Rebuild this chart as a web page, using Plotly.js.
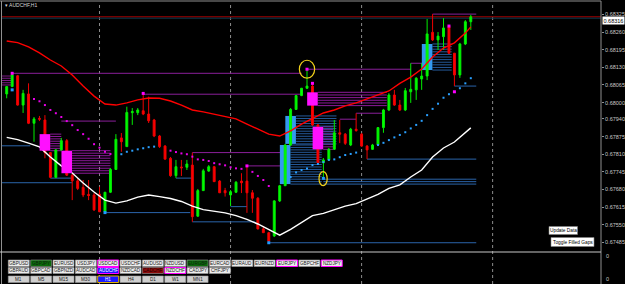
<!DOCTYPE html>
<html><head><meta charset="utf-8">
<script src="https://cdn.plot.ly/plotly-3.0.1.min.js"></script>
<style>html,body{margin:0;padding:0;background:#000;overflow:hidden}#chart{width:625px;height:284px}</style>
</head><body><div id="chart"></div>
<script>
// ---- DATA (AUDCHF, H1) ----
const barIndex = [...Array(86).keys()];
const open = [
0.68032,0.68059,0.68099,0.67991,0.68032,0.67924,0.67942,0.67936,0.67816,0.67725,
0.67826,0.67860,0.67733,0.67712,0.67688,0.67662,0.67660,0.67663,0.67598,0.67670,
0.67754,0.67870,0.67838,0.67963,0.67963,0.67970,0.67958,0.67936,0.67877,0.67840,
0.67795,0.67731,0.67763,0.67762,0.67770,0.67582,0.67676,0.67748,0.67764,0.67711,
0.67676,0.67660,0.67670,0.67711,0.67711,0.67668,0.67648,0.67535,0.67521,0.67509,
0.67638,0.67694,0.67844,0.67975,0.68026,0.68053,0.68061,0.67918,0.67779,0.67789,
0.67828,0.67889,0.67884,0.67844,0.67902,0.67884,0.67840,0.67828,0.67844,0.67908,
0.67973,0.68028,0.67991,0.67973,0.68040,0.68047,0.68087,0.68098,0.68259,0.68231,
0.68243,0.68280,0.68182,0.68102,0.68216,0.68298];
const high = [
0.68061,0.68108,0.68102,0.68047,0.68071,0.67947,0.67951,0.67954,0.67818,0.67829,
0.67870,0.67866,0.67737,0.67722,0.67715,0.67715,0.67667,0.67690,0.67671,0.67759,
0.67884,0.67888,0.67985,0.67980,0.67980,0.68034,0.68022,0.67940,0.67881,0.67844,
0.67800,0.67789,0.67789,0.67789,0.67816,0.67682,0.67756,0.67770,0.67767,0.67715,
0.67686,0.67678,0.67711,0.67740,0.67767,0.67678,0.67652,0.67546,0.67524,0.67641,
0.67697,0.67848,0.67980,0.68028,0.68054,0.68123,0.68071,0.67921,0.67796,0.67833,
0.67936,0.67936,0.67888,0.67907,0.67961,0.67888,0.67844,0.67848,0.67910,0.67977,
0.68035,0.68047,0.68010,0.68054,0.68145,0.68094,0.68145,0.68308,0.68326,0.68260,
0.68311,0.68282,0.68183,0.68220,0.68304,0.68323];
const low = [
0.68016,0.68058,0.67989,0.67962,0.67921,0.67856,0.67932,0.67795,0.67722,0.67722,
0.67822,0.67730,0.67641,0.67678,0.67652,0.67641,0.67601,0.67597,0.67595,0.67667,
0.67752,0.67819,0.67837,0.67918,0.67954,0.67954,0.67925,0.67873,0.67833,0.67789,
0.67727,0.67722,0.67730,0.67752,0.67561,0.67579,0.67675,0.67745,0.67708,0.67667,
0.67654,0.67619,0.67667,0.67667,0.67594,0.67594,0.67533,0.67520,0.67484,0.67505,
0.67634,0.67693,0.67840,0.67973,0.68024,0.68050,0.67914,0.67778,0.67721,0.67785,
0.67826,0.67851,0.67844,0.67840,0.67893,0.67837,0.67792,0.67826,0.67840,0.67889,
0.67969,0.67988,0.67969,0.67969,0.67999,0.68010,0.68047,0.68083,0.68227,0.68194,
0.68194,0.68179,0.68061,0.68091,0.68212,0.68268];
const close = [
0.68059,0.68102,0.67991,0.68034,0.67924,0.67940,0.67939,0.67816,0.67725,0.67826,
0.67860,0.67733,0.67712,0.67684,0.67660,0.67658,0.67605,0.67598,0.67670,0.67754,
0.67865,0.67856,0.67964,0.67967,0.67973,0.67958,0.67933,0.67877,0.67838,0.67792,
0.67731,0.67764,0.67760,0.67774,0.67580,0.67676,0.67749,0.67764,0.67709,0.67668,
0.67668,0.67672,0.67707,0.67705,0.67668,0.67648,0.67535,0.67521,0.67490,0.67638,
0.67694,0.67844,0.67975,0.68026,0.68053,0.68061,0.67918,0.67779,0.67789,0.67828,
0.67889,0.67884,0.67850,0.67902,0.67897,0.67840,0.67826,0.67844,0.67908,0.67973,
0.68028,0.67991,0.67973,0.68044,0.68049,0.68090,0.68098,0.68253,0.68231,0.68245,
0.68275,0.68182,0.68102,0.68216,0.68298,0.68316];

const maIdx = [0,2,4,6,8,10,12,14,16,18,20,22,24,26,28,30,32,34,36,38,40,42,44,46,48,50,52,54,56,58,60,62,64,66,68,70,72,74,76,78,80,82,84,85];
const maRed = [0.68227,0.68221,0.68205,0.68183,0.68157,0.68135,0.68102,0.68061,0.68024,0.67995,0.67991,0.67999,0.68010,0.68017,0.68016,0.68006,0.67991,0.67973,0.67966,0.67958,0.67949,0.67940,0.67921,0.67903,0.67884,0.67877,0.67896,0.67921,0.67943,0.67962,0.67973,0.67988,0.67999,0.68013,0.68028,0.68043,0.68071,0.68094,0.68124,0.68168,0.68201,0.68220,0.68256,0.68279];
const maWhite = [0.67872,0.67864,0.67851,0.67837,0.67800,0.67767,0.67741,0.67704,0.67671,0.67641,0.67630,0.67638,0.67652,0.67660,0.67654,0.67647,0.67636,0.67619,0.67606,0.67601,0.67594,0.67584,0.67570,0.67553,0.67533,0.67512,0.67533,0.67560,0.67584,0.67592,0.67605,0.67619,0.67628,0.67645,0.67662,0.67684,0.67697,0.67726,0.67752,0.67800,0.67833,0.67855,0.67888,0.67907];

const upDotIdx = [5,6,7,8,9,10,11,12,13,14,15,16,17,18,19,30,31,32,33,34,35,36,37,38,39,40,41,42,43,45,46,47,48];
const upDotVal = [0.68013,0.68005,0.67991,0.67973,0.67961,0.67947,0.67932,0.67917,0.67899,0.67884,0.67867,0.67847,0.67834,0.67819,0.67811,
0.67823,0.67818,0.67813,0.67810,0.67801,0.67791,0.67789,0.67785,0.67777,0.67773,0.67769,0.67762,0.67758,0.67756,
0.67745,0.67730,0.67715,0.67693];
const dnDotIdx = [21,22,23,24,25,26,27,52,53,54,55,56,57,58,59,60,61,62,63,64,68,69,70,71,72,73,74,75,76,77,78,79,80,81,83,84,85];
const dnDotVal = [0.67810,0.67819,0.67823,0.67828,0.67832,0.67836,0.67838,
0.67726,0.67743,0.67752,0.67757,0.67770,0.67774,0.67781,0.67789,0.67791,0.67799,0.67807,0.67811,0.67816,
0.67844,0.67852,0.67862,0.67872,0.67881,0.67891,0.67905,0.67918,0.67933,0.67954,0.67977,0.67996,0.68018,0.68031,
0.68053,0.68071,0.68090];

const fracHighIdx = [1,25,44,55,56,81,82];
const fracHighVal = [0.68108,0.68034,0.67767,0.68123,0.68071,0.68282,0.68040];
const fracLowIdx = [1,18,48,58];
const fracLowVal = [0.68047,0.67595,0.67484,0.67721];

// level lines: price, from bar, to bar
const purpleLevel = [0.68108,0.68123,0.68145,0.68326,0.68031,0.67932,0.67816,0.67767,0.67939,0.67961];
const purpleFrom  = [1,55,74,78,25,10,34,44,61,64];
const purpleTo    = [54,74,77,86,54,20,51,51,64,69];
const blueLevel = [0.67841,0.67722,0.67705,0.67595,0.67722,0.67561,0.67617,0.67484,0.67792,0.67718,0.67709,0.67700,0.68061];
const blueFrom  = [-1,8,-1,18,31,34,41,48,66,58,58,58,82];
const blueTo    = [4.3,12,12,33.6,34,45.5,44,86,86,86,86,86,86];

// filled-gap zones
const magGapBar = [7,11,56,57];
const magGapTop = [0.67884,0.67823,0.68038,0.67911];
const magGapBot = [0.67823,0.67740,0.67989,0.67828];
const magGapEnd = [10,19,69.6,59.8];
const blueGapBar = [51,52,77];
const blueGapTop = [0.67844,0.67951,0.68216];
const blueGapBot = [0.67700,0.67848,0.68120];
const blueGapEnd = [57.7,60.4,81.5];

const daySep = [17,41,65,89];
const currentPrice = 0.68316;

const tickVals = [0.68325,0.68260,0.68195,0.68130,0.68065,0.68000,0.67940,0.67875,0.67810,0.67745,0.67680,0.67615,0.67550,0.67485];
const tickText = ["0.68325","0.68260","0.68195","0.68130","0.68065","0.68000","0.67940","0.67875","0.67810","0.67745","0.67680","0.67615","0.67550","0.67485"];

const row1 = ["GBPUSD","GBPJPY","EURUSD","USDJPY","USDCAD","USDCHF","AUDUSD","NZDUSD","EURGBP","EURCAD","EURAUD","EURNZD","EURJPY","GBPCHF","NZDJPY"];
const row2 = ["GBPAUD","GBPCAD","GBPNZD","AUDCAD","AUDCHF","NZDCAD","CADCHF","NZDCHF","CADJPY","CHFJPY"];
const row3 = ["M1","M5","M15","M30","H1","H4","D1","W1","MN1"];

// ---- DRAWING ----
const W=625,H=284;
const px=x=>x/W, py=y=>1-y/H;
const shapes=[], annotations=[];
function hline(p,x0,x1,color,w,layer){shapes.push({type:'line',xref:'x',yref:'y',x0:x0,x1:x1,y0:p,y1:p,line:{color:color,width:w||1},layer:layer||'below'});}
function stripes(x0,x1,top,bot,color){
  const n=Math.max(1,Math.round((top-bot)/0.000092));
  for(let k=0;k<=n;k++){hline(bot+(top-bot)*k/n,x0,x1,color,0.8,'below');}
}
daySep.forEach(b=>shapes.push({type:'line',xref:'x',yref:'paper',x0:b,x1:b,y0:0,y1:py(2),line:{color:'#8c8c8c',width:1,dash:'dot'},layer:'below'}));
purpleLevel.forEach((p,i)=>hline(p,purpleFrom[i],purpleTo[i],'#8a1f9a',1));
blueLevel.forEach((p,i)=>hline(p,blueFrom[i],blueTo[i],'#2a64aa',1));
stripes(-1,0.8,0.68098,0.68065,'#9a20a8');
magGapBar.forEach((b,i)=>{
  stripes(b+0.97,magGapEnd[i],magGapTop[i],magGapBot[i],'#b020c0');
  shapes.push({type:'rect',xref:'x',yref:'y',x0:b-0.97,x1:b+0.97,y0:magGapBot[i],y1:magGapTop[i],fillcolor:'#ff10ff',line:{width:0},layer:'above'});
});
blueGapBar.forEach((b,i)=>{
  stripes(b+0.97,blueGapEnd[i],blueGapTop[i],blueGapBot[i],'#2f70c0');
  shapes.push({type:'rect',xref:'x',yref:'y',x0:b-0.97,x1:b+0.97,y0:blueGapBot[i],y1:blueGapTop[i],fillcolor:'#3399f0',line:{width:0},layer:'below'});
});
shapes.push({type:'line',xref:'paper',yref:'y',x0:px(2),x1:px(601),y0:currentPrice,y1:currentPrice,line:{color:'#b00000',width:1},layer:'below'});
shapes.push({type:'line',xref:'paper',yref:'y',x0:px(2),x1:px(601),y0:currentPrice-0.00005,y1:currentPrice-0.00005,line:{color:'#0b3c50',width:1},layer:'below'});
shapes.push({type:'circle',xref:'x',yref:'y',x0:53.6,x1:56.4,y0:fracHighVal[3]-0.00033,y1:fracHighVal[3]+0.00033,line:{color:'#f2d21a',width:1.2},layer:'above'});
shapes.push({type:'circle',xref:'x',yref:'y',x0:57.2,x1:58.7,y0:fracLowVal[3]-0.00027,y1:fracLowVal[3]+0.00025,line:{color:'#f2d21a',width:1.2},layer:'above'});
shapes.push({type:'line',xref:'paper',yref:'paper',x0:0,x1:px(601),y0:py(1),y1:py(1),line:{color:'#909090',width:1}});
shapes.push({type:'line',xref:'paper',yref:'paper',x0:px(1.5),x1:px(1.5),y0:0,y1:py(1),line:{color:'#909090',width:1}});
shapes.push({type:'line',xref:'paper',yref:'paper',x0:px(601),x1:px(601),y0:0,y1:py(1),line:{color:'#909090',width:1}});
shapes.push({type:'line',xref:'paper',yref:'paper',x0:0,x1:px(601),y0:py(252),y1:py(252),line:{color:'#c8c8c8',width:1}});

function button(x0,y0,x1,y1,text,bg,fg,border,fs){
  shapes.push({type:'rect',xref:'paper',yref:'paper',x0:px(x0),x1:px(x1),y0:py(y1),y1:py(y0),fillcolor:bg,line:{color:border,width:border==='#ff00ff'||border==='#e0b000'?1:0.6},layer:'above'});
  annotations.push({xref:'paper',yref:'paper',x:px((x0+x1)/2),y:py((y0+y1)/2),text:text,showarrow:false,xanchor:'center',yanchor:'middle',font:{family:'Liberation Sans',size:fs||4.6,color:fg}});
}
const special = {
  GBPJPY:{bg:'#0a6a0a',fg:'#102010'}, EURGBP:{bg:'#0a6a0a',fg:'#102010'},
  USDCAD:{border:'#ff00ff'}, EURJPY:{border:'#ff00ff'}, NZDJPY:{border:'#ff00ff'}, NZDCHF:{border:'#ff00ff'},
  AUDCHF:{bg:'#1a1aff',fg:'#ffffff',border:'#ff00ff'}, CADCHF:{bg:'#8a0a0a',fg:'#200000'},
  H1:{bg:'#1a1aff',fg:'#ffffff',border:'#e0b000'}
};
[[row1,260,266.5,'#ececec'],[row2,267.5,273.5,'#ececec'],[row3,276,282.5,'#cfcfcf']].forEach(([names,y0,y1,bg])=>{
  names.forEach((n,k)=>{
    const s=special[n]||{};
    const x0=8.3+k*22.35;
    button(x0,y0,x0+21,y1,n,s.bg||bg,s.fg||'#202020',s.border||'#9a9a9a');
  });
});
button(549,226.5,577.5,234.5,'Update Data','#ffffff','#000000','#808080',4.8);
button(551,237.5,594,246.5,'Toggle Filled Gaps','#ffffff','#000000','#808080',4.8);

annotations.push({xref:'paper',yref:'paper',x:px(3),y:py(4.5),text:'▾ AUDCHF,H1',showarrow:false,xanchor:'left',yanchor:'middle',font:{family:'Liberation Sans',size:5,color:'#d8d8d8'}});
annotations.push({xref:'paper',yref:'paper',x:1,y:py(15.8),text:'0.68316',showarrow:false,xanchor:'right',yanchor:'top',bgcolor:'#ffffff',borderpad:0.5,font:{family:'Liberation Sans',size:5.5,color:'#000000'}});
[256,279].forEach(y=>annotations.push({xref:'paper',yref:'paper',x:px(604),y:py(y),text:'0',showarrow:false,xanchor:'left',yanchor:'middle',font:{family:'Liberation Sans',size:5.5,color:'#c8c8c8'}}));

const traces = [
  {type:'candlestick',x:barIndex,open:open,high:high,low:low,close:close,whiskerwidth:0,
   increasing:{line:{color:'#00ee00',width:1},fillcolor:'#00ff00'},
   decreasing:{line:{color:'#ee0000',width:1},fillcolor:'#ff0000'},hoverinfo:'skip'},
  {type:'scatter',mode:'lines',x:maIdx,y:maWhite,line:{color:'#ffffff',width:1.4},hoverinfo:'skip'},
  {type:'scatter',mode:'lines',x:maIdx,y:maRed,line:{color:'#ff0000',width:1.4},hoverinfo:'skip'},
  {type:'scatter',mode:'markers',x:upDotIdx,y:upDotVal,marker:{symbol:'square',size:2,color:'#e800e8'},hoverinfo:'skip'},
  {type:'scatter',mode:'markers',x:dnDotIdx,y:dnDotVal,marker:{symbol:'square',size:2,color:'#2aa0ff'},hoverinfo:'skip'},
  {type:'scatter',mode:'markers',x:fracHighIdx,y:fracHighVal,marker:{symbol:'square',size:3,color:'#ff00ff'},hoverinfo:'skip'},
  {type:'scatter',mode:'markers',x:fracLowIdx,y:fracLowVal,marker:{symbol:'square',size:3,color:'#1e9bff'},hoverinfo:'skip'}
];

const layout = {
  width:W,height:H,margin:{l:0,r:0,t:0,b:0,autoexpand:false},
  paper_bgcolor:'#000000',plot_bgcolor:'#000000',showlegend:false,hovermode:false,boxgap:0.5,
  xaxis:{domain:[2/W,601/W],range:[-0.861,108.846],showgrid:false,zeroline:false,showticklabels:false,ticks:'',rangeslider:{visible:false},fixedrange:true},
  yaxis:{domain:[32/H,282/H],range:[0.674499,0.683706],side:'right',tickmode:'array',tickvals:tickVals,ticktext:tickText,
    tickfont:{family:'Liberation Sans',size:5.5,color:'#c8c8c8'},ticks:'outside',ticklen:2,tickcolor:'#909090',
    showgrid:false,zeroline:false,showline:false,fixedrange:true},
  shapes:shapes,annotations:annotations
};
Plotly.newPlot('chart',traces,layout,{staticPlot:true,displayModeBar:false});
</script>
</body></html>
